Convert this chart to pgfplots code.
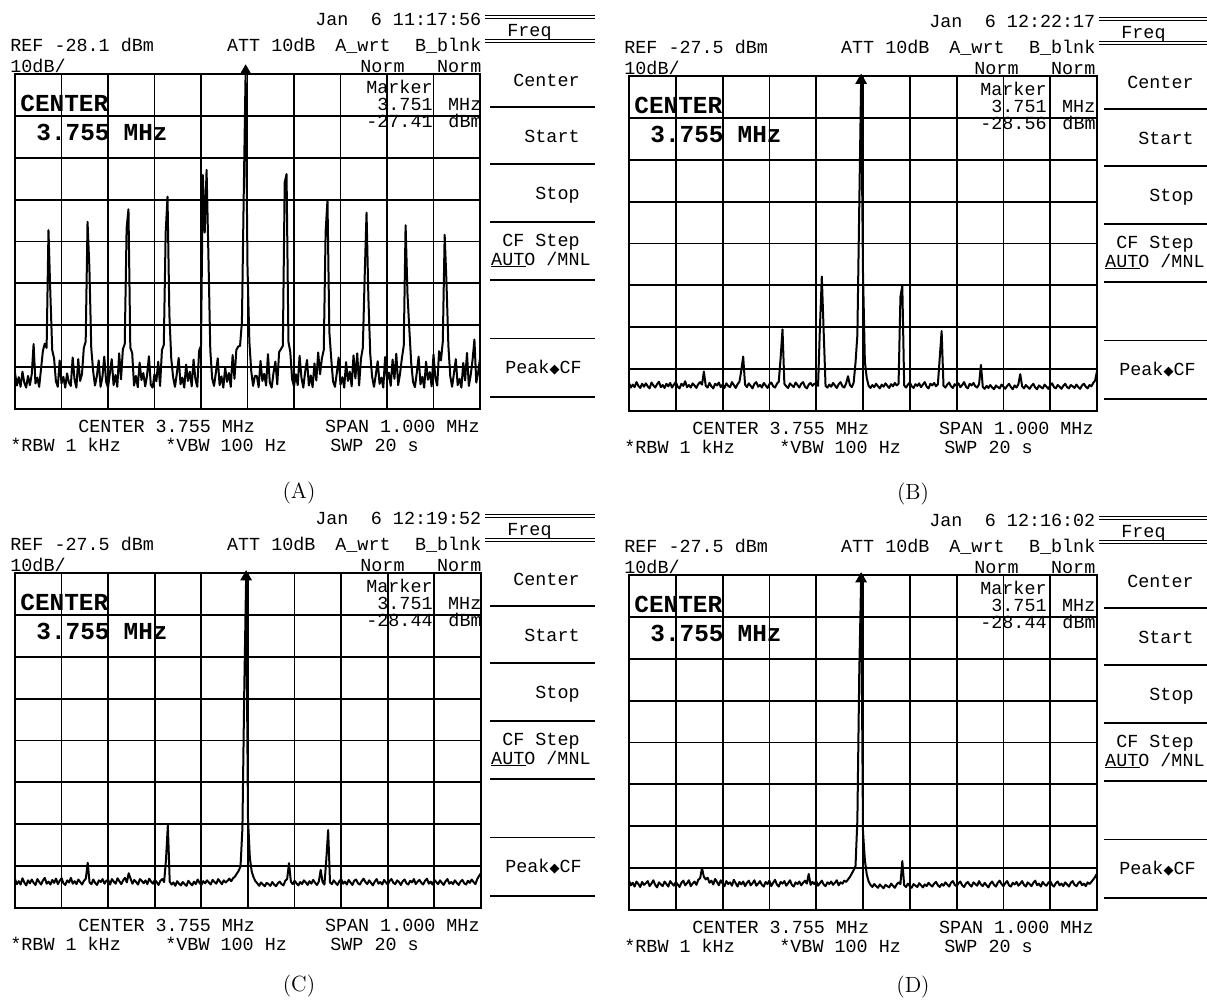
\documentclass[border=0pt]{standalone}
\usepackage{pgfplots}
\pgfplotsset{compat=1.18}
\usepackage{pgfplotstable}
\usepackage{fontspec}
\newfontfamily\monof{Liberation Mono}
\newfontfamily\djv{DejaVu Sans}
\newcommand\tf{\monof\fontsize{9.2}{11}\selectfont}
\newcommand\bigf{\monof\bfseries\fontsize{12.2}{14}\selectfont}

\pgfplotstableread[row sep=\\]{
y\\
-99.5\\ -102.5\\ -100.5\\ -102.8\\ -99.2\\ -101.8\\ -103.0\\ -100.2\\ -102.4\\ -99.8\\
-92.6\\ -102.0\\ -100.6\\ -102.8\\ -98.5\\ -94.2\\ -92.5\\ -93.5\\ -65.4\\ -80.4\\
-94.0\\ -96.0\\ -101.5\\ -102.8\\ -96.5\\ -102.0\\ -100.4\\ -103.0\\ -99.6\\ -101.8\\
-102.6\\ -95.8\\ -101.0\\ -103.0\\ -96.2\\ -101.4\\ -99.8\\ -93.5\\ -92.0\\ -63.4\\
-74.4\\ -93.5\\ -99.0\\ -102.5\\ -100.3\\ -96.5\\ -102.8\\ -100.5\\ -95.6\\ -101.6\\
-103.0\\ -99.6\\ -96.2\\ -102.4\\ -100.0\\ -102.8\\ -94.8\\ -101.0\\ -93.8\\ -92.6\\
-65.0\\ -60.4\\ -93.5\\ -94.7\\ -102.5\\ -100.2\\ -102.9\\ -97.0\\ -101.2\\ -99.5\\
-102.7\\ -100.1\\ -95.5\\ -102.3\\ -103.0\\ -99.8\\ -101.5\\ -96.8\\ -102.6\\ -94.0\\
-92.8\\ -66.0\\ -57.4\\ -85.6\\ -96.0\\ -100.5\\ -102.8\\ -99.7\\ -95.9\\ -102.2\\
-100.6\\ -103.0\\ -97.5\\ -101.4\\ -99.2\\ -102.7\\ -96.3\\ -101.0\\ -102.8\\ -94.2\\
-93.0\\ -52.2\\ -66.0\\ -51.0\\ -71.8\\ -94.0\\ -100.8\\ -102.6\\ -99.4\\ -96.0\\
-102.4\\ -100.3\\ -103.0\\ -98.2\\ -101.6\\ -99.5\\ -102.8\\ -95.2\\ -100.9\\ -94.0\\
-93.2\\ -93.0\\ -87.3\\ -56.2\\ -27.41\\ -74.1\\ -92.0\\ -99.0\\ -102.6\\ -100.2\\
-100.2\\ -102.9\\ -96.6\\ -101.4\\ -99.7\\ -102.5\\ -95.0\\ -101.8\\ -103.0\\ -99.4\\
-96.8\\ -102.2\\ -94.5\\ -93.8\\ -93.0\\ -54.0\\ -52.0\\ -92.0\\ -94.5\\ -101.0\\
-102.7\\ -99.8\\ -102.4\\ -95.4\\ -100.6\\ -103.0\\ -99.2\\ -96.4\\ -102.5\\ -100.1\\
-102.9\\ -97.2\\ -101.3\\ -94.6\\ -99.8\\ -96.0\\ -94.0\\ -65.8\\ -58.2\\ -89.6\\
-96.0\\ -101.5\\ -102.8\\ -99.6\\ -95.8\\ -102.3\\ -100.5\\ -103.0\\ -96.9\\ -101.4\\
-99.2\\ -102.7\\ -95.3\\ -100.8\\ -94.8\\ -102.5\\ -96.1\\ -93.5\\ -76.5\\ -61.2\\
-81.6\\ -95.0\\ -100.4\\ -102.8\\ -99.9\\ -96.7\\ -102.1\\ -100.6\\ -103.0\\ -95.7\\
-101.2\\ -99.4\\ -102.6\\ -96.3\\ -100.9\\ -94.9\\ -102.4\\ -99.7\\ -96.0\\ -93.0\\
-64.2\\ -80.5\\ -89.0\\ -97.0\\ -101.6\\ -102.9\\ -99.5\\ -95.6\\ -102.2\\ -100.4\\
-103.0\\ -96.8\\ -101.1\\ -99.3\\ -102.7\\ -95.1\\ -100.7\\ -102.5\\ -94.3\\ -96.5\\
-92.0\\ -66.5\\ -78.1\\ -93.0\\ -100.2\\ -102.8\\ -99.6\\ -96.2\\ -102.4\\ -100.9\\
-103.0\\ -97.1\\ -101.3\\ -94.7\\ -102.6\\ -100.0\\ -96.4\\ -91.5\\ -101.8\\ -99.4\\
-96.0\\
}\tabA

\pgfplotstableread[row sep=\\]{
y\\
-100.8\\ -101.9\\ -101.2\\ -101.8\\ -100.6\\ -101.5\\ -102.0\\ -101.0\\ -101.7\\ -100.9\\
-101.6\\ -102.1\\ -100.7\\ -101.4\\ -101.9\\ -101.1\\ -100.5\\ -101.8\\ -101.3\\ -102.0\\
-101.0\\ -101.6\\ -100.8\\ -101.9\\ -101.2\\ -100.6\\ -101.7\\ -102.1\\ -101.0\\ -101.5\\
-100.4\\ -101.8\\ -101.3\\ -101.9\\ -100.9\\ -101.4\\ -102.0\\ -101.1\\ -100.6\\ -101.2\\
-98.1\\ -101.5\\ -101.9\\ -100.8\\ -101.6\\ -102.1\\ -101.0\\ -101.4\\ -100.7\\ -101.8\\
-101.2\\ -102.0\\ -100.9\\ -101.5\\ -101.8\\ -100.6\\ -101.3\\ -102.0\\ -101.1\\ -100.5\\
-97.8\\ -94.5\\ -101.2\\ -101.8\\ -100.9\\ -101.5\\ -102.1\\ -101.0\\ -100.6\\ -101.7\\
-101.3\\ -101.9\\ -100.8\\ -101.4\\ -102.0\\ -101.1\\ -100.7\\ -101.6\\ -101.9\\ -101.0\\
-100.5\\ -94.8\\ -88.0\\ -101.0\\ -101.6\\ -102.0\\ -100.9\\ -101.4\\ -101.8\\ -100.7\\
-101.3\\ -101.9\\ -101.0\\ -100.6\\ -101.7\\ -102.1\\ -101.2\\ -100.8\\ -101.5\\ -101.0\\
-100.9\\ -101.5\\ -87.4\\ -75.4\\ -88.6\\ -101.5\\ -101.9\\ -101.2\\ -101.7\\ -100.8\\
-101.4\\ -102.0\\ -101.1\\ -100.6\\ -101.6\\ -101.9\\ -100.9\\ -99.2\\ -101.3\\ -101.8\\
-100.8\\ -96.0\\ -89.3\\ -58.7\\ -28.56\\ -74.6\\ -95.7\\ -99.6\\ -101.5\\ -102.0\\
-101.3\\ -101.8\\ -101.0\\ -101.6\\ -102.1\\ -101.2\\ -101.7\\ -100.9\\ -101.5\\ -102.0\\
-101.1\\ -101.6\\ -100.8\\ -101.4\\ -101.0\\ -80.2\\ -77.6\\ -101.4\\ -101.9\\ -101.2\\
-100.7\\ -101.6\\ -102.0\\ -101.1\\ -101.5\\ -100.9\\ -101.8\\ -101.2\\ -100.6\\ -101.7\\
-102.1\\ -101.0\\ -101.4\\ -100.8\\ -101.6\\ -101.1\\ -94.8\\ -88.4\\ -101.5\\ -101.9\\
-101.2\\ -100.7\\ -101.6\\ -102.0\\ -101.1\\ -101.5\\ -100.9\\ -101.8\\ -101.3\\ -100.6\\
-101.7\\ -102.1\\ -101.0\\ -101.4\\ -100.8\\ -101.6\\ -101.9\\ -101.1\\ -96.5\\ -101.8\\
-102.2\\ -101.5\\ -102.0\\ -101.3\\ -101.9\\ -102.3\\ -101.4\\ -101.8\\ -102.1\\ -101.2\\
-101.7\\ -102.2\\ -101.5\\ -101.0\\ -101.8\\ -102.3\\ -101.4\\ -101.9\\ -101.1\\ -98.7\\
-101.6\\ -102.1\\ -101.3\\ -101.8\\ -102.2\\ -101.5\\ -101.0\\ -101.9\\ -102.3\\ -101.4\\
-101.8\\ -102.1\\ -101.2\\ -101.7\\ -102.2\\ -101.4\\ -100.9\\ -101.8\\ -102.1\\ -101.3\\
-101.7\\ -102.2\\ -101.5\\ -101.0\\ -101.8\\ -102.1\\ -101.3\\ -101.6\\ -102.0\\ -101.2\\
-101.8\\ -102.2\\ -101.4\\ -101.0\\ -101.7\\ -102.1\\ -101.3\\ -101.6\\ -100.8\\ -100.2\\
-98.0\\
}\tabB

\pgfplotstableread[row sep=\\]{
y\\
-100.6\\ -101.8\\ -101.1\\ -101.9\\ -100.4\\ -101.4\\ -102.1\\ -100.9\\ -101.6\\ -100.7\\
-101.5\\ -102.0\\ -100.6\\ -101.3\\ -101.9\\ -100.9\\ -100.3\\ -101.7\\ -101.2\\ -101.9\\
-100.8\\ -101.5\\ -100.5\\ -101.8\\ -101.0\\ -100.4\\ -101.6\\ -102.0\\ -100.9\\ -101.4\\
-100.3\\ -101.7\\ -101.1\\ -101.8\\ -100.7\\ -101.3\\ -101.9\\ -101.0\\ -100.5\\ -96.7\\
-101.4\\ -101.8\\ -100.7\\ -101.5\\ -102.0\\ -100.9\\ -101.3\\ -100.6\\ -101.7\\ -101.0\\
-100.8\\ -101.9\\ -100.6\\ -101.2\\ -101.7\\ -100.4\\ -101.1\\ -101.8\\ -100.9\\ -100.3\\
-101.4\\ -99.2\\ -100.5\\ -101.7\\ -100.8\\ -101.3\\ -101.9\\ -100.6\\ -101.0\\ -101.6\\
-100.9\\ -101.8\\ -100.5\\ -101.2\\ -101.7\\ -100.8\\ -101.3\\ -102.0\\ -101.0\\ -100.6\\
-101.3\\ -96.0\\ -87.7\\ -101.2\\ -101.9\\ -101.4\\ -102.2\\ -101.1\\ -101.7\\ -102.1\\
-101.3\\ -101.8\\ -102.2\\ -101.0\\ -101.6\\ -102.1\\ -101.2\\ -101.8\\ -100.7\\ -101.5\\
-102.0\\ -101.1\\ -101.6\\ -100.9\\ -101.4\\ -101.9\\ -100.8\\ -101.3\\ -101.7\\ -100.6\\
-101.2\\ -101.8\\ -100.9\\ -101.4\\ -101.0\\ -100.5\\ -101.1\\ -100.4\\ -100.0\\ -99.3\\
-98.6\\ -97.5\\ -88.5\\ -55.4\\ -28.44\\ -86.1\\ -95.6\\ -98.8\\ -100.2\\ -101.1\\
-101.6\\ -102.2\\ -101.4\\ -101.9\\ -102.3\\ -101.5\\ -101.8\\ -102.2\\ -101.3\\ -101.9\\
-102.3\\ -101.6\\ -101.2\\ -101.8\\ -102.1\\ -101.0\\ -100.6\\ -96.8\\ -101.2\\ -101.8\\
-101.0\\ -101.6\\ -102.1\\ -101.3\\ -101.8\\ -100.9\\ -101.4\\ -102.0\\ -101.1\\ -101.7\\
-100.8\\ -101.5\\ -102.0\\ -101.2\\ -98.4\\ -101.3\\ -101.9\\ -96.0\\ -88.9\\ -101.4\\
-101.8\\ -100.9\\ -101.5\\ -102.0\\ -101.1\\ -100.6\\ -101.7\\ -101.2\\ -101.9\\ -100.8\\
-101.4\\ -102.0\\ -101.0\\ -100.7\\ -101.6\\ -101.9\\ -101.1\\ -100.5\\ -101.3\\ -101.8\\
-100.9\\ -101.5\\ -102.1\\ -101.2\\ -100.6\\ -101.7\\ -101.3\\ -101.9\\ -100.8\\ -101.4\\
-101.9\\ -101.0\\ -100.6\\ -101.5\\ -101.8\\ -100.9\\ -101.3\\ -102.0\\ -101.1\\ -100.7\\
-101.6\\ -101.9\\ -101.0\\ -101.4\\ -100.6\\ -101.8\\ -101.2\\ -100.8\\ -101.5\\ -101.9\\
-101.0\\ -100.5\\ -101.7\\ -101.2\\ -101.9\\ -100.8\\ -101.3\\ -101.8\\ -100.9\\ -101.5\\
-102.0\\ -101.1\\ -100.6\\ -101.7\\ -101.3\\ -101.8\\ -100.9\\ -101.5\\ -102.0\\ -101.2\\
-100.8\\ -101.6\\ -101.9\\ -101.0\\ -101.5\\ -100.7\\ -101.3\\ -101.8\\ -100.6\\ -99.8\\
-99.2\\
}\tabC

\pgfplotstableread[row sep=\\]{
y\\
-100.5\\ -101.6\\ -101.0\\ -101.9\\ -100.7\\ -101.3\\ -102.0\\ -100.8\\ -101.5\\ -101.1\\
-100.6\\ -101.8\\ -101.2\\ -100.4\\ -101.5\\ -102.1\\ -100.9\\ -101.4\\ -101.8\\ -100.7\\
-101.3\\ -101.9\\ -100.6\\ -101.2\\ -101.7\\ -100.8\\ -101.4\\ -102.0\\ -101.0\\ -100.5\\
-101.6\\ -101.1\\ -100.4\\ -101.8\\ -101.2\\ -100.7\\ -101.5\\ -100.3\\ -99.9\\ -97.5\\
-99.6\\ -100.2\\ -99.8\\ -101.0\\ -100.5\\ -101.4\\ -100.1\\ -100.8\\ -101.6\\ -100.4\\
-101.2\\ -101.8\\ -100.6\\ -101.3\\ -100.9\\ -101.7\\ -100.3\\ -101.1\\ -101.9\\ -100.8\\
-101.4\\ -100.7\\ -101.8\\ -101.0\\ -100.5\\ -101.6\\ -101.1\\ -100.4\\ -101.7\\ -101.2\\
-100.6\\ -101.5\\ -101.9\\ -100.8\\ -101.3\\ -100.5\\ -101.8\\ -101.0\\ -100.3\\ -101.4\\
-101.9\\ -100.8\\ -101.2\\ -100.6\\ -101.7\\ -101.1\\ -100.4\\ -101.5\\ -101.9\\ -100.9\\
-101.3\\ -100.7\\ -101.6\\ -101.0\\ -100.5\\ -101.2\\ -98.9\\ -101.5\\ -100.8\\ -101.3\\
-100.6\\ -101.7\\ -101.1\\ -100.5\\ -101.4\\ -101.8\\ -100.9\\ -101.3\\ -100.7\\ -101.5\\
-101.0\\ -100.4\\ -101.6\\ -100.9\\ -101.2\\ -100.5\\ -100.8\\ -100.2\\ -99.6\\ -98.8\\
-98.0\\ -97.0\\ -86.0\\ -51.0\\ -28.44\\ -88.8\\ -95.6\\ -99.0\\ -100.7\\ -101.5\\
-102.0\\ -101.3\\ -101.8\\ -102.2\\ -101.4\\ -101.9\\ -102.3\\ -101.5\\ -101.8\\ -102.1\\
-101.2\\ -101.7\\ -102.2\\ -101.4\\ -100.9\\ -101.3\\ -95.8\\ -101.6\\ -102.0\\ -101.2\\
-101.8\\ -102.2\\ -101.3\\ -101.7\\ -102.0\\ -101.1\\ -101.6\\ -102.1\\ -101.4\\ -101.8\\
-101.0\\ -101.5\\ -101.9\\ -101.2\\ -100.8\\ -101.6\\ -102.0\\ -101.3\\ -101.7\\ -100.9\\
-101.4\\ -101.9\\ -101.0\\ -100.6\\ -101.5\\ -101.8\\ -101.1\\ -100.7\\ -101.6\\ -102.0\\
-101.2\\ -100.8\\ -101.5\\ -101.9\\ -100.9\\ -101.3\\ -101.7\\ -100.6\\ -101.4\\ -101.8\\
-101.0\\ -101.6\\ -102.1\\ -101.2\\ -100.7\\ -101.5\\ -101.9\\ -101.0\\ -100.5\\ -101.3\\
-101.8\\ -101.1\\ -100.6\\ -101.6\\ -101.9\\ -101.0\\ -101.4\\ -100.8\\ -101.7\\ -101.2\\
-100.6\\ -101.5\\ -101.9\\ -100.9\\ -101.3\\ -101.8\\ -101.0\\ -100.5\\ -101.6\\ -101.2\\
-101.9\\ -100.8\\ -101.4\\ -101.7\\ -101.0\\ -100.6\\ -101.5\\ -101.9\\ -101.1\\ -100.7\\
-101.6\\ -101.2\\ -101.8\\ -100.9\\ -101.4\\ -101.9\\ -101.0\\ -100.6\\ -101.5\\ -101.8\\
-101.1\\ -100.7\\ -101.6\\ -101.2\\ -101.8\\ -100.9\\ -101.3\\ -100.8\\ -100.2\\ -99.6\\
-98.8\\
}\tabD

\pgfplotsset{
  sa/.style={scale only axis, anchor=north west, width=233pt, height=167.5pt,
    xmin=3.255, xmax=4.255,
    xtick={3.355,3.455,3.555,3.655,3.755,3.855,3.955,4.055,4.155},
    xticklabels={}, yticklabels={}, major tick length=0pt,
    grid=major, grid style={black, line width=0.9pt},
    axis line style={black, line width=1.2pt}, clip=false},
  refA/.style={ymin=-108.1, ymax=-28.1, ytick={-98.1,-88.1,-78.1,-68.1,-58.1,-48.1,-38.1}},
  refB/.style={ymin=-107.5, ymax=-27.5, ytick={-97.5,-87.5,-77.5,-67.5,-57.5,-47.5,-37.5}},
  trace/.style={black, line width=1pt, line join=round, no marks},
  mk/.style={only marks, mark=triangle*, mark size=3pt, black},
}
\tikzset{
  tl/.style={font=\tf, inner sep=0pt, text height=6.1pt, text depth=0pt, anchor=west},
  tr/.style={tl, anchor=east},
  bl/.style={font=\bigf, inner sep=0pt, text height=8.2pt, text depth=0pt, anchor=west},
  br/.style={bl, anchor=east},
}

\newcommand\paneltext[7]{%
\begin{scope}[shift={(#1,#2)}]
\node[tl] at (315,19) {Jan};
\node[tr] at (481.7,19) {6 #3};
\node[tl] at (10,45.5) {REF #4 dBm};
\node[tl] at (226.7,45.5) {ATT 10dB};
\node[tl] at (335,45.5) {A\_wrt};
\node[tr] at (481.7,45.5) {B\_blnk};
\node[tl] at (10,66.5) {10dB/};
\node[tl] at (360,66.5) {Norm};
\node[tr] at (481.7,66.5) {Norm};
\node[tr] at (433,87.5) {Marker};
\node[tr] at (433,104) {3.751};
\node[tr] at (481.7,104) {MHz};
\node[tr] at (433,121.5) {#5};
\node[tr] at (482,121.5) {dBm};
\node[bl] at (20,103) {CENTER};
\node[bl] at (36,132.5) {3.755};
\node[br] at (168,132.5) {MHz};
\node[tl] at (78,426) {CENTER 3.755 MHz};
\node[tr] at (480,426) {SPAN 1.000 MHz};
\node[tl] at (10,445.5) {*RBW 1 kHz};
\node[tl] at (165,445.5) {*VBW 100 Hz};
\node[tl] at (330,445.5) {SWP 20 s};
\draw[line width=0.6pt] (485,15.7)--(595,15.7) (485,18.5)--(595,18.5)
  (485,39.3)--(595,39.3) (485,42.1)--(595,42.1);
\node[tl] at (507,30) {Freq};
\draw[line width=0.8pt] (490,106.7)--(595,106.7) (490,164)--(595,164)
  (490,221.7)--(595,221.7) (490,280)--(595,280) (490,338.3)--(595,338.3)
  (490,396.7)--(595,396.7);
\node[tr] at (580,80) {Center};
\node[tr] at (580,136) {Start};
\node[tr] at (580,193) {Stop};
\node[tr] at (580,240) {CF Step};
\node[tr] at (591,259) {AUTO /MNL};
\draw[line width=0.6pt] (491,266.7)--(526,266.7);
\node[tr] at (582,367) {Peak{\djv\fontsize{6.5}{7}\selectfont ◆}CF};
\node[font=\fontsize{11}{13}\selectfont, inner sep=0pt] at (299,#7) {(#6)};
\end{scope}}

\begin{document}
\begin{tikzpicture}
\useasboundingbox (0,0) rectangle (603.5pt,-500.5pt);

\begin{axis}[sa, refA, at={(7.5pt,-37pt)}, width=232.5pt]
\addplot[trace] table[x expr=3.255+0.004*\coordindex, y=y]{\tabA};
\addplot[mk] coordinates {(3.751,-27.41)};
\end{axis}

\begin{axis}[sa, refB, at={(314.5pt,-38pt)}, width=234pt]
\addplot[trace] table[x expr=3.255+0.004*\coordindex, y=y]{\tabB};
\addplot[mk] coordinates {(3.751,-28.56)};
\end{axis}

\begin{axis}[sa, refB, at={(7.5pt,-286.5pt)}, width=233pt]
\addplot[trace] table[x expr=3.255+0.004*\coordindex, y=y]{\tabC};
\addplot[mk] coordinates {(3.751,-28.44)};
\end{axis}

\begin{axis}[sa, refB, at={(314.5pt,-287.5pt)}, width=234pt]
\addplot[trace] table[x expr=3.255+0.004*\coordindex, y=y]{\tabD};
\addplot[mk] coordinates {(3.751,-28.44)};
\end{axis}

\begin{scope}[x=0.5pt, y=-0.5pt]
\paneltext{0}{0}{11:17:56}{-28.1}{-27.41}{A}{493}
\paneltext{614}{2}{12:22:17}{-27.5}{-28.56}{B}{492}
\paneltext{0}{499}{12:19:52}{-27.5}{-28.44}{C}{487}
\paneltext{614}{501}{12:16:02}{-27.5}{-28.44}{D}{486}
\end{scope}
\end{tikzpicture}
\end{document}
